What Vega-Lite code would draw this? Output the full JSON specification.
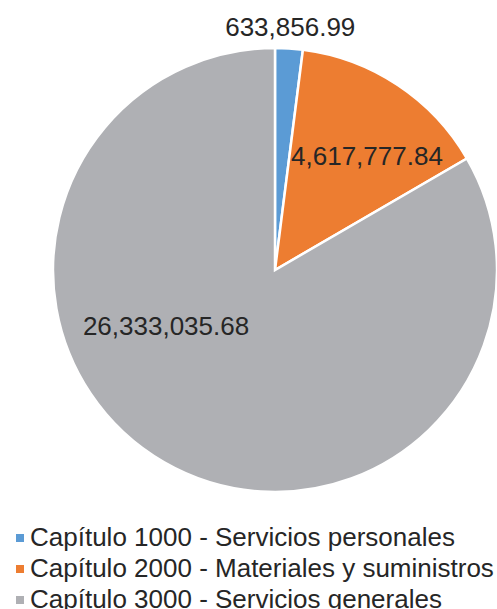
{
  "$schema": "https://vega.github.io/schema/vega-lite/v6.json",
  "width": 497,
  "height": 609,
  "autosize": "none",
  "padding": 0,
  "background": "white",
  "config": {"view": {"stroke": null}, "font": "Liberation Sans"},
  "data": {"values": [
    {"capitulo": "Capítulo 1000 - Servicios personales", "monto": 633856.99},
    {"capitulo": "Capítulo 2000 - Materiales y suministros", "monto": 4617777.84},
    {"capitulo": "Capítulo 3000 - Servicios generales", "monto": 26333035.68}
  ]},
  "encoding": {
    "theta": {"field": "monto", "type": "quantitative", "stack": true},
    "order": {"field": "capitulo", "type": "nominal", "sort": "ascending"}
  },
  "layer": [
    {
      "mark": {"type": "arc", "x": 275, "y": 270, "outerRadius": 222, "stroke": "white", "strokeWidth": 2.5},
      "encoding": {
        "color": {
          "field": "capitulo", "type": "nominal",
          "scale": {"domain": ["Capítulo 1000 - Servicios personales", "Capítulo 2000 - Materiales y suministros", "Capítulo 3000 - Servicios generales"], "range": ["#5B9BD5", "#ED7D31", "#AFB0B4"]},
          "legend": {
            "orient": "none", "legendX": 7, "legendY": 525, "title": null,
            "symbolType": "square", "symbolSize": 64, "symbolStrokeWidth": 0,
            "labelFontSize": 26, "labelColor": "#262626", "labelFont": "Liberation Sans",
            "labelOffset": -3, "rowPadding": 5, "padding": 0, "labelLimit": 600
          }
        }
      }
    },
    {
      "transform": [{"filter": "datum.capitulo === 'Capítulo 1000 - Servicios personales'"}],
      "mark": {"type": "text", "x": 275, "y": 270, "radius": 242, "fontSize": 26, "color": "#262626", "align": "center", "baseline": "middle"},
      "encoding": {"text": {"field": "monto", "type": "quantitative", "format": ",.2f"}}
    },
    {
      "transform": [{"filter": "datum.capitulo === 'Capítulo 2000 - Materiales y suministros'"}],
      "mark": {"type": "text", "x": 275, "y": 270, "radius": 146, "thetaOffset": 0.222, "fontSize": 26, "color": "#262626", "align": "center", "baseline": "middle"},
      "encoding": {"text": {"field": "monto", "type": "quantitative", "format": ",.2f"}}
    },
    {
      "transform": [{"filter": "datum.capitulo === 'Capítulo 3000 - Servicios generales'"}],
      "mark": {"type": "text", "x": 275, "y": 270, "radius": 123, "thetaOffset": 1.611, "fontSize": 26, "color": "#262626", "align": "center", "baseline": "middle"},
      "encoding": {"text": {"field": "monto", "type": "quantitative", "format": ",.2f"}}
    }
  ]
}
